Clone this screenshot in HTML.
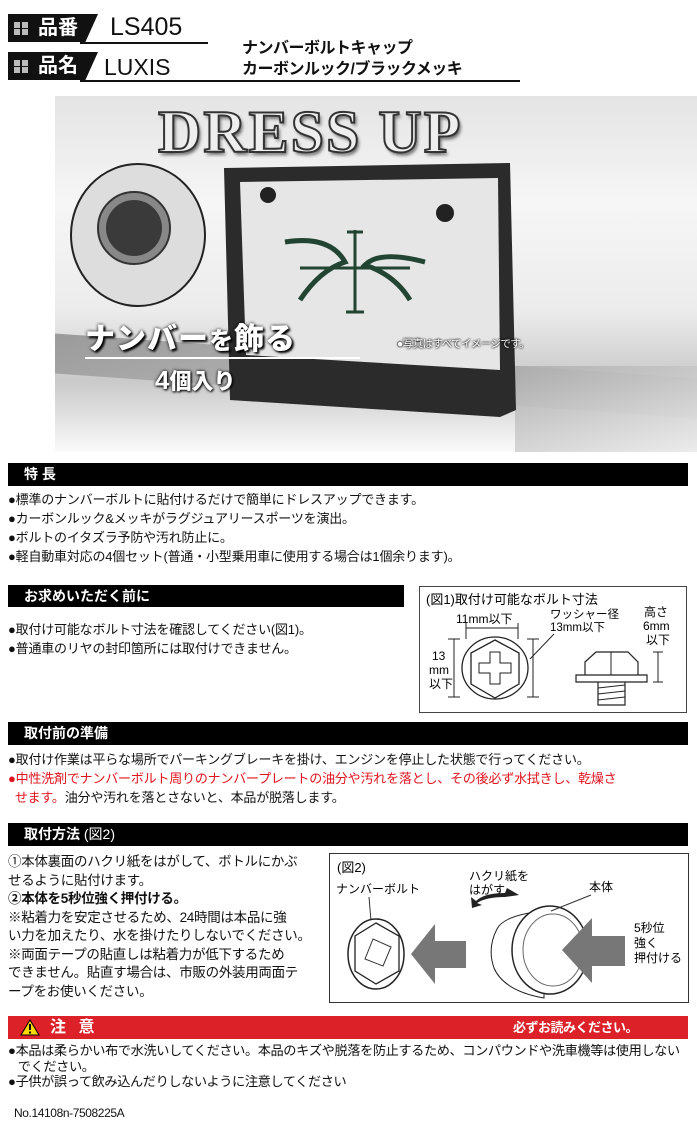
<!DOCTYPE html>
<html><head><meta charset="utf-8">
<style>
*{margin:0;padding:0;box-sizing:border-box}
body{width:697px;height:1132px;background:#fff;position:relative;overflow:hidden;font-family:"Liberation Sans","Noto Sans CJK JP",sans-serif;color:#111}
.a{position:absolute;white-space:nowrap}
.bar{position:absolute;background:#000;color:#fff;font-weight:bold;font-size:14px;padding-left:16px;line-height:23px}
.t{position:absolute;font-size:13px;letter-spacing:-0.2px;white-space:nowrap;line-height:19px}
.tab{position:absolute;left:8px;width:90px;height:28px;background:#111;clip-path:polygon(0 0,100% 0,86% 100%,0 100%);color:#fff;font-weight:bold;font-size:20px;line-height:28px;padding-left:30px}
.sq{position:absolute;left:6px;top:8px;width:14px;height:13px;background:
linear-gradient(#111,#111) 6px 0/2px 13px no-repeat,linear-gradient(#111,#111) 0 6px/14px 1px no-repeat,#bbb}
</style></head><body>
<!-- header -->
<div class="tab" style="top:14px"><div class="sq"></div>品番</div>
<div class="a" style="left:110px;top:13px;font-size:25px">LS405</div>
<div class="a" style="left:80px;top:42px;width:128px;height:2px;background:#111"></div>
<div class="tab" style="top:52px"><div class="sq"></div>品名</div>
<div class="a" style="left:104px;top:54px;font-size:23px">LUXIS</div>
<div class="a" style="left:242px;top:38px;font-size:16px;font-weight:bold;line-height:21px;letter-spacing:-0.5px">ナンバーボルトキャップ<br>カーボンルック/ブラックメッキ</div>
<div class="a" style="left:80px;top:80px;width:440px;height:2px;background:#111"></div>

<!-- photo -->
<div class="a" style="left:55px;top:96px;width:642px;height:356px;background:linear-gradient(180deg,#e4e4e4 0%,#f6f6f6 30%,#ececec 60%,#c9c9c9 80%,#fafafa 100%);overflow:hidden">
 <div class="a" style="left:0;top:260px;width:642px;height:40px;background:linear-gradient(170deg,#555,#999 50%,#ccc);opacity:.5;transform:skewY(4deg)"></div>
 <div class="a" style="left:460px;top:270px;width:182px;height:86px;background:linear-gradient(160deg,#aaa,#e8e8e8);opacity:.8"></div>
</div>
<div class="a" style="left:158px;top:98px;font-family:'Liberation Serif',serif;font-weight:bold;font-size:60px;color:#eee;-webkit-text-stroke:2px #333;letter-spacing:2px;text-shadow:2px 3px 3px #666">DRESS UP</div>
<svg class="a" style="left:0;top:0" width="697" height="460">
 <ellipse cx="138" cy="235" rx="67" ry="71" fill="#ddd" stroke="#222" stroke-width="2"/>
 <circle cx="134" cy="228" r="36" fill="#888" stroke="#333" stroke-width="2"/>
 <circle cx="134" cy="228" r="28" fill="#3a3a3a"/>
 <path d="M224 168 L510 163 L516 410 L500 417 L230 400 Z" fill="#2b2b2b"/>
 <path d="M240 182 L498 178 L500 370 L246 355 Z" fill="#e6e6e6"/>
 <circle cx="268" cy="195" r="8" fill="#222"/><circle cx="445" cy="213" r="9" fill="#222"/>
 <path d="M355 230 L355 312 M346 312 L364 312 M347 232 L363 232 M300 268 L410 268" stroke="#243" stroke-width="3" fill="none"/>
 <path d="M285 242 Q330 235 345 262 Q320 270 300 300 M425 262 Q380 250 365 265 Q395 275 410 300" stroke="#243" stroke-width="5" fill="none"/>
</svg>
<div class="a" style="left:85px;top:314px;font-size:30px;font-weight:900;color:#fff;text-shadow:0 0 3px #000,2px 2px 2px #000;letter-spacing:1px">ナンバー<span style="font-size:24px">を</span>飾る</div>
<div class="a" style="left:85px;top:357px;width:275px;height:2px;background:#fff"></div>
<div class="a" style="left:155px;top:364px;font-size:22px;font-weight:900;color:#fff;text-shadow:0 0 3px #000,1px 1px 2px #000"><span style="font-size:26px">4</span>個入り</div>
<div class="a" style="left:397px;top:336px;font-size:10.5px;color:#fff;text-shadow:0 0 2px #000,0 0 2px #000;letter-spacing:-0.6px">●写真はすべてイメージです。</div>

<!-- features -->
<div class="bar" style="left:8px;top:463px;width:680px;height:23px">特 長</div>
<div class="t" style="left:8px;top:490px">●標準のナンバーボルトに貼付けるだけで簡単にドレスアップできます。<br>●カーボンルック&amp;メッキがラグジュアリースポーツを演出。<br>●ボルトのイタズラ予防や汚れ防止に。<br>●軽自動車対応の4個セット(普通・小型乗用車に使用する場合は1個余ります)。</div>

<div class="bar" style="left:8px;top:585px;width:396px;height:22px;line-height:22px">お求めいただく前に</div>
<div class="t" style="left:8px;top:620px">●取付け可能なボルト寸法を確認してください(図1)。<br>●普通車のリヤの封印箇所には取付けできません。</div>

<!-- fig1 -->
<div class="a" style="left:419px;top:586px;width:268px;height:127px;border:1.5px solid #444"></div>
<svg class="a" style="left:420px;top:587px" width="266" height="125" font-family="Liberation Sans,Noto Sans CJK JP,sans-serif" font-size="12">
 <text x="6" y="17" font-size="13">(図1)取付け可能なボルト寸法</text>
 <text x="36" y="36">11mm以下</text>
 <text x="130" y="31" font-size="11.5">ワッシャー径</text><text x="130" y="44" font-size="11.5">13mm以下</text>
 <text x="224" y="29">高さ</text><text x="223" y="43">6mm</text><text x="226" y="57">以下</text>
 <text x="12" y="73">13</text><text x="9" y="87">mm</text><text x="9" y="101">以下</text>
 <path d="M46 41 L98 41 M46 36 L46 52 M98 36 L98 52" stroke="#222" fill="none"/>
 <path d="M34 52 L34 110 M28 52 L40 52 M28 110 L40 110" stroke="#222" fill="none"/>
 <ellipse cx="75" cy="81" rx="33" ry="31" fill="none" stroke="#222" stroke-width="1.3"/>
 <path d="M75 53 L99 66 L99 97 L75 111 L51 97 L51 66 Z" fill="none" stroke="#222" stroke-width="1.3"/>
 <path d="M70 65 h10 v11 h11 v10 h-11 v11 h-10 v-11 h-11 v-10 h11 Z" fill="none" stroke="#222"/>
 <path d="M113 52 L113 110 M107 52 L119 52 M107 110 L119 110" stroke="#222" fill="none"/>
 <path d="M110 72 L134 47" stroke="#222" fill="none"/>
 <path d="M165 75 L176 65 L208 65 L218 75 L218 88 L165 88 Z M156 88 L227 88 L227 95 L156 95 Z M178 95 L205 95 L205 118 L178 118 Z" fill="#fff" stroke="#222" stroke-width="1.2"/>
 <path d="M191 65 L191 88" stroke="#222"/>
 <path d="M178 101 L205 98 M178 107 L205 104 M178 113 L205 110" stroke="#222"/>
 <path d="M238 65 L238 95 M233 65 L243 65 M233 95 L243 95" stroke="#222" fill="none"/>
</svg>

<div class="bar" style="left:8px;top:722px;width:680px;height:23px">取付前の準備</div>
<div class="t" style="left:8px;top:750px">●取付け作業は平らな場所でパーキングブレーキを掛け、エンジンを停止した状態で行ってください。<br><span style="color:#e0141e">●中性洗剤でナンバーボルト周りのナンバープレートの油分や汚れを落とし、その後必ず水拭きし、乾燥さ<br>&nbsp;&nbsp;せます。</span>油分や汚れを落とさないと、本品が脱落します。</div>

<div class="bar" style="left:8px;top:823px;width:680px;height:23px">取付方法 <span style="font-weight:normal">(図2)</span></div>
<div class="t" style="left:8px;top:853px;line-height:18.5px;font-size:13.5px;letter-spacing:-0.3px">①本体裏面のハクリ紙をはがして、ボトルにかぶ<br>せるように貼付けます。<br><b>②本体を5秒位強く押付ける。</b><br>※粘着力を安定させるため、24時間は本品に強<br>い力を加えたり、水を掛けたりしないでください。<br>※両面テープの貼直しは粘着力が低下するため<br>できません。貼直す場合は、市販の外装用両面テ<br>ープをお使いください。</div>

<!-- fig2 -->
<div class="a" style="left:329px;top:853px;width:360px;height:150px;border:1.5px solid #333"></div>
<svg class="a" style="left:329px;top:853px" width="360" height="150" font-family="Liberation Sans,Noto Sans CJK JP,sans-serif" font-size="12">
 <text x="8" y="19" font-size="13">(図2)</text>
 <text x="7" y="40">ナンバーボルト</text>
 <text x="140" y="27">ハクリ紙を</text><text x="140" y="41">はがす</text>
 <text x="260" y="38">本体</text>
 <text x="305" y="79">5秒位</text><text x="305" y="94">強く</text><text x="305" y="109">押付ける</text>
 <path d="M40 44 L42 68" stroke="#333"/>
 <ellipse cx="47" cy="101" rx="28" ry="35" fill="#fff" stroke="#222" stroke-width="1.5"/>
 <path d="M47 70 L70 83 L70 118 L47 131 L26 118 L26 83 Z" fill="none" stroke="#222" stroke-width="1.3"/>
 <path d="M44 86 L62 94 L54 113 L36 106 Z" fill="none" stroke="#333"/>
 <path d="M82 101 L106 71 L106 88 L137 88 L137 115 L106 115 L106 131 Z" fill="#777"/>
 <path d="M168 76 Q175 62 215 58 L215 145 Q175 138 165 115 Q158 95 168 76 Z" fill="#fff" stroke="#222"/>
 <ellipse cx="221" cy="97" rx="38" ry="44" fill="#fff" stroke="#222" stroke-width="1.5"/>
 <ellipse cx="224" cy="97" rx="30" ry="36" fill="none" stroke="#666"/>
 <path d="M233 97 L263 65 L263 83 L296 83 L296 113 L263 113 L263 130 Z" fill="#777"/>
 <path d="M190 42 L178 35 L176 40 Q155 40 147 48 L142 44 L143 55 L153 52 L148 50 Q157 44 176 44 Z" fill="#222"/>
 <path d="M222 58 L262 42" stroke="#333"/>
</svg>

<!-- caution -->
<div class="a" style="left:8px;top:1016px;width:680px;height:23px;background:#dc2128;color:#fff;font-weight:bold">
 <svg class="a" style="left:12px;top:3px" width="20" height="17"><path d="M10 1 L19 16 L1 16 Z" fill="#ffd800" stroke="#000"/><rect x="9" y="5" width="2" height="6"/><rect x="9" y="12.5" width="2" height="2"/></svg>
 <span class="a" style="left:42px;top:0;font-size:16px;line-height:23px;letter-spacing:4px">注 意</span>
 <span class="a" style="left:505px;top:0;font-size:13px;line-height:23px;letter-spacing:-0.5px">必ずお読みください。</span>
</div>
<div class="t" style="left:8px;top:1043px;line-height:15.5px;font-size:13.2px;letter-spacing:-0.4px">●本品は柔らかい布で水洗いしてください。本品のキズや脱落を防止するため、コンパウンドや洗車機等は使用しない<br>&nbsp;&nbsp;&nbsp;でください。<br>●子供が誤って飲み込んだりしないように注意してください</div>
<div class="a" style="left:14px;top:1106px;font-size:12px;letter-spacing:-0.4px">No.14108n-7508225A</div>
</body></html>
